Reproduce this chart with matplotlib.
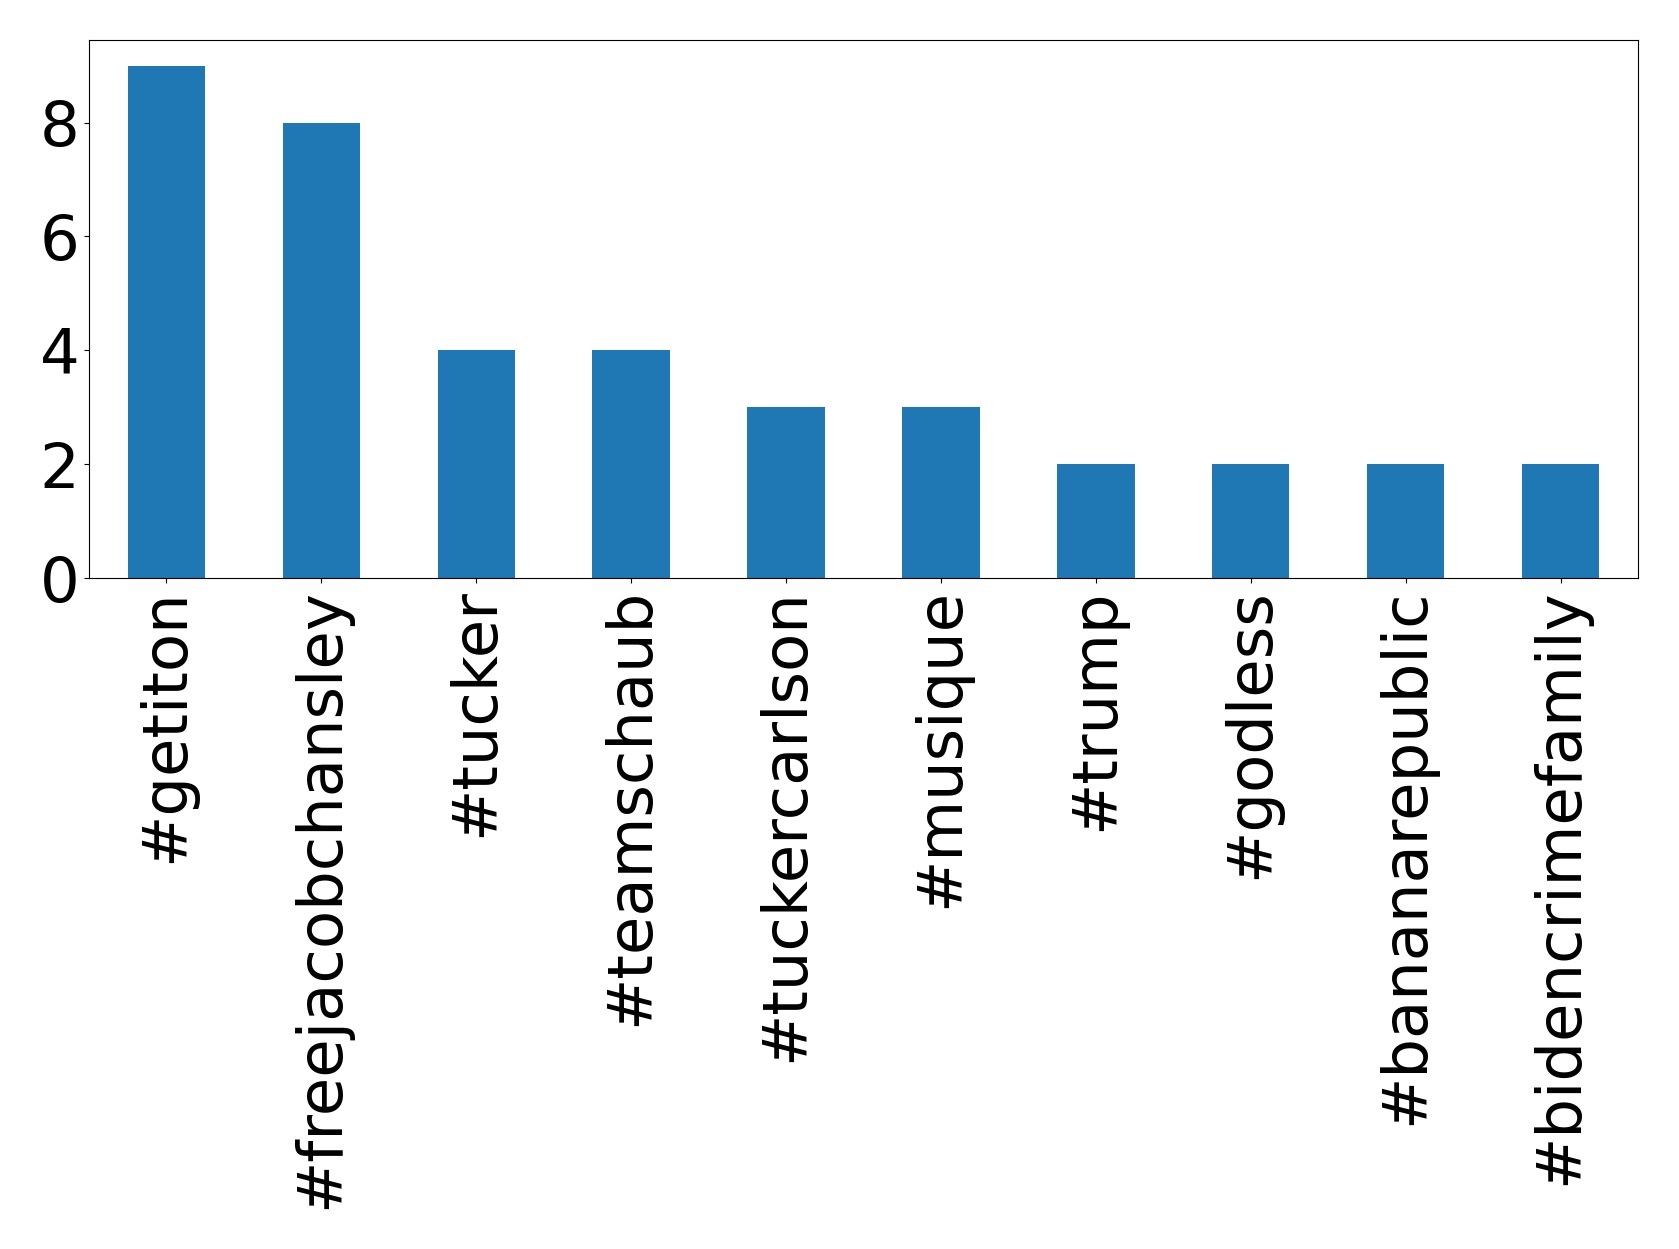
import matplotlib
matplotlib.use("Agg")
import matplotlib.pyplot as plt
import pandas as pd

hashtags = ["#getiton", "#freejacobchansley", "#tucker", "#teamschaub",
            "#tuckercarlson", "#musique", "#trump", "#godless",
            "#bananarepublic", "#bidencrimefamily"]
counts = [9, 8, 4, 4, 3, 3, 2, 2, 2, 2]
yticks = [0, 2, 4, 6, 8]

s = pd.Series(counts, index=hashtags)

fig, ax = plt.subplots(figsize=(16.79, 12.49), dpi=100)
s.plot.bar(ax=ax, color="#1f77b4")
ax.set_yticks(yticks)
ax.tick_params(axis="both", labelsize=45)
fig.subplots_adjust(left=0.053, right=0.9756, top=0.968, bottom=0.537)
fig.savefig("out.png", dpi=100)
